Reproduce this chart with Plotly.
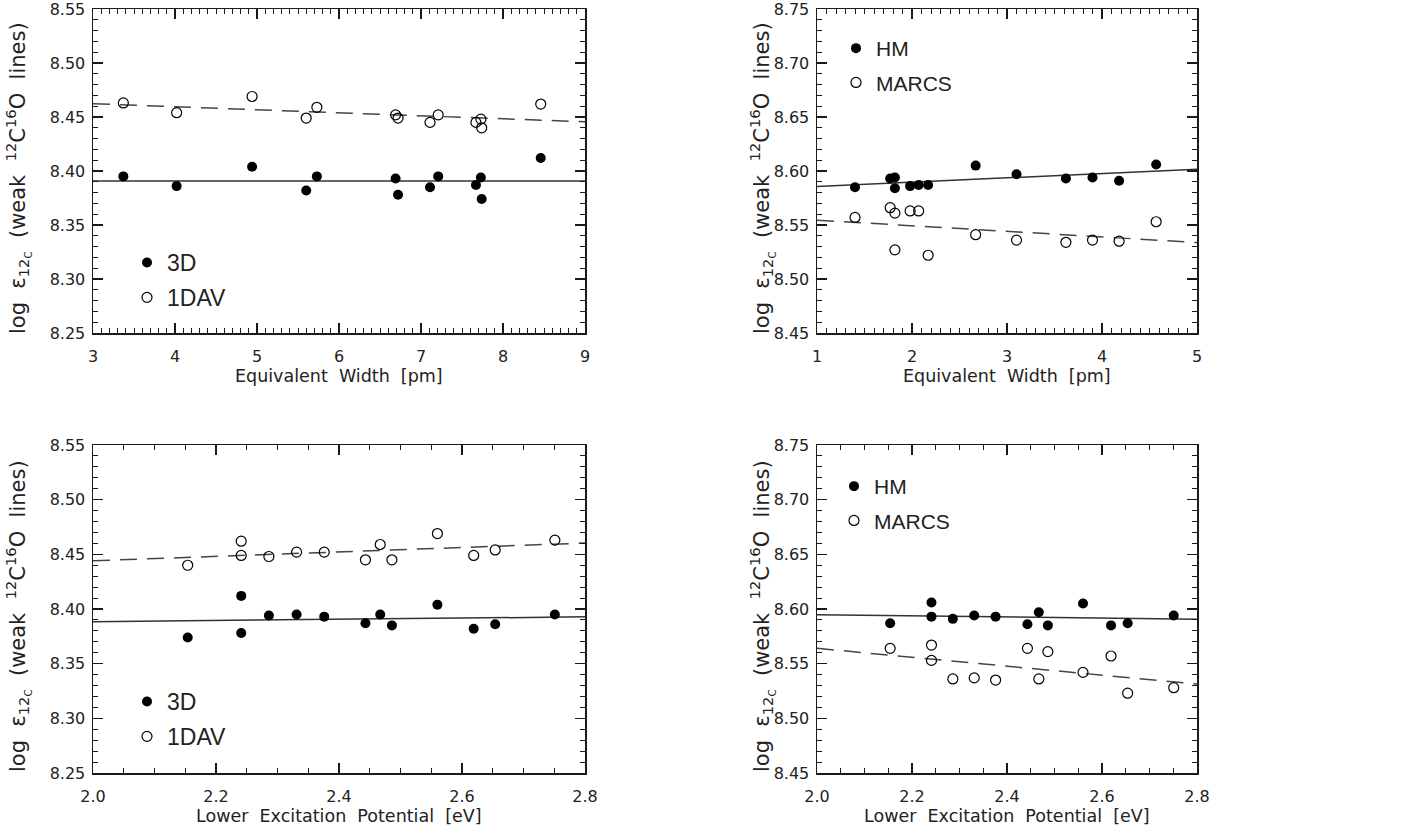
import numpy as np
import plotly.graph_objects as go

W, H = 1407, 839

# ---------------- data ----------------
ew_3d = [3.37, 4.02, 4.94, 5.60, 5.73, 6.69, 6.72, 7.11, 7.21, 7.67, 7.73, 7.74, 8.46]
logc_3d_ew = [8.395, 8.386, 8.404, 8.382, 8.395, 8.393, 8.378, 8.385, 8.395, 8.387, 8.394, 8.374, 8.412]
logc_1dav_ew = [8.463, 8.454, 8.469, 8.449, 8.459, 8.452, 8.449, 8.445, 8.452, 8.445, 8.448, 8.440, 8.462]

ew_hm = [1.40, 1.77, 1.82, 1.82, 1.98, 2.07, 2.17, 2.67, 3.10, 3.62, 3.90, 4.18, 4.57]
logc_hm_ew = [8.585, 8.593, 8.594, 8.584, 8.586, 8.587, 8.587, 8.605, 8.597, 8.593, 8.594, 8.591, 8.606]
logc_marcs_ew = [8.557, 8.566, 8.561, 8.527, 8.563, 8.563, 8.522, 8.541, 8.536, 8.534, 8.536, 8.535, 8.553]

chi_ex = [2.154, 2.241, 2.241, 2.286, 2.331, 2.376, 2.443, 2.467, 2.486, 2.560, 2.619, 2.654, 2.751]
logc_3d_chi = [8.374, 8.412, 8.378, 8.394, 8.395, 8.393, 8.387, 8.395, 8.385, 8.404, 8.382, 8.386, 8.395]
logc_1dav_chi = [8.440, 8.462, 8.449, 8.448, 8.452, 8.452, 8.445, 8.459, 8.445, 8.469, 8.449, 8.454, 8.463]
logc_hm_chi = [8.587, 8.606, 8.593, 8.591, 8.594, 8.593, 8.586, 8.597, 8.585, 8.605, 8.585, 8.587, 8.594]
logc_marcs_chi = [8.564, 8.567, 8.553, 8.536, 8.537, 8.535, 8.564, 8.536, 8.561, 8.542, 8.557, 8.523, 8.528]

SP = "\u00a0\u00a0"
x_titles = ["Equivalent" + SP + "Width" + SP + "[pm]",
            "Equivalent" + SP + "Width" + SP + "[pm]",
            "Lower" + SP + "Excitation" + SP + "Potential" + SP + "[eV]",
            "Lower" + SP + "Excitation" + SP + "Potential" + SP + "[eV]"]
SPY = "\u00a0\u00a0"
y_title = ("log" + SPY + "\u03b5<sub>12<sub>C</sub></sub>" + SPY + "(weak" + SPY +
           "<sup>12</sup>C<sup>16</sup>O" + SPY + "lines)")
legend_names = [("3D", "1DAV"), ("HM", "MARCS"), ("3D", "1DAV"), ("HM", "MARCS")]

# ---------------- layout / style ----------------
panels = [
    dict(x=ew_3d, f=logc_3d_ew, o=logc_1dav_ew, xr=[3, 9], yr=[8.25, 8.55],
         xd=(93, 585), yd=(9, 333), dx=1, mdx=0.1, xfmt="d", yt_off=75,
         leg=(127, 241), legsize=23, leggap=2),
    dict(x=ew_hm, f=logc_hm_ew, o=logc_marcs_ew, xr=[1, 5], yr=[8.45, 8.75],
         xd=(817, 1197), yd=(9, 333), dx=1, mdx=0.1, xfmt="d", yt_off=55,
         leg=(836, 28), legsize=21, leggap=4),
    dict(x=chi_ex, f=logc_3d_chi, o=logc_1dav_chi, xr=[2.0, 2.8], yr=[8.25, 8.55],
         xd=(93, 585), yd=(445, 773), dx=0.2, mdx=0.05, xfmt=".1f", yt_off=75,
         leg=(127, 680), legsize=23, leggap=2),
    dict(x=chi_ex, f=logc_hm_chi, o=logc_marcs_chi, xr=[2.0, 2.8], yr=[8.45, 8.75],
         xd=(817, 1197), yd=(445, 773), dx=0.2, mdx=0.05, xfmt=".1f", yt_off=55,
         leg=(834, 466), legsize=21, leggap=4),
]

INK = "#1a1a1a"
tick_font = dict(family="DejaVu Sans", size=16, color="#222")
xtitle_font = dict(family="DejaVu Sans", size=17.5, color="#222")
ytitle_font = dict(family="DejaVu Sans", size=21, color="#222")

fig = go.Figure()
layout = dict(width=W, height=H, margin=dict(l=0, r=0, t=0, b=0, autoexpand=False),
              paper_bgcolor="white", plot_bgcolor="white", showlegend=True)
annotations = []

for i, p in enumerate(panels):
    n = "" if i == 0 else str(i + 1)
    xa, ya = "x" + n, "y" + n
    lg = "legend" + n
    xs = np.array(p["x"], dtype=float)
    # fits (ordinary least squares) over full axis range
    xx = np.array(p["xr"], dtype=float)
    cf = np.polyfit(xs, np.array(p["f"]), 1)
    co = np.polyfit(xs, np.array(p["o"]), 1)
    fig.add_trace(go.Scatter(x=xx, y=np.polyval(cf, xx), mode="lines", xaxis=xa, yaxis=ya,
                             line=dict(color="#333", width=1.5), showlegend=False, hoverinfo="skip"))
    fig.add_trace(go.Scatter(x=xx, y=np.polyval(co, xx), mode="lines", xaxis=xa, yaxis=ya,
                             line=dict(color="#444", width=1.5, dash="17px,10px"),
                             showlegend=False, hoverinfo="skip"))
    fig.add_trace(go.Scatter(x=xs, y=p["f"], mode="markers", xaxis=xa, yaxis=ya,
                             name=legend_names[i][0], legend=lg, legendgroup=f"f{i}",
                             marker=dict(symbol="circle", size=10, color="black")))
    fig.add_trace(go.Scatter(x=xs, y=p["o"], mode="markers", xaxis=xa, yaxis=ya,
                             name=legend_names[i][1], legend=lg, legendgroup=f"o{i}",
                             marker=dict(symbol="circle-open", size=10, color="black",
                                         line=dict(width=1.2, color="black"))))

    common = dict(showline=True, linecolor=INK, linewidth=1.5, mirror="ticks",
                  ticks="inside", tickcolor=INK, tickwidth=1.3, ticklen=10,
                  showgrid=False, zeroline=False, tickfont=tick_font, automargin=False,
                  ticklabeloverflow="allow")
    layout["xaxis" + n] = dict(common, domain=[p["xd"][0] / W, p["xd"][1] / W],
                               range=p["xr"], anchor=ya, tick0=p["xr"][0], dtick=p["dx"],
                               tickformat=p["xfmt"], ticklabelstandoff=8,
                               minor=dict(ticks="inside", ticklen=5, dtick=p["mdx"],
                                          tick0=p["xr"][0], tickcolor=INK, tickwidth=1))
    layout["yaxis" + n] = dict(common, domain=[1 - p["yd"][1] / H, 1 - p["yd"][0] / H],
                               range=p["yr"], anchor=xa, tick0=p["yr"][0], dtick=0.05,
                               tickformat=".2f", ticklabelstandoff=3,
                               minor=dict(ticks="inside", ticklen=5, dtick=0.01,
                                          tick0=p["yr"][0], tickcolor=INK, tickwidth=1))
    layout[lg] = dict(x=p["leg"][0] / W, y=1 - p["leg"][1] / H,
                      xanchor="left", yanchor="top",
                      font=dict(family="Liberation Sans, Arial", size=p["legsize"], color="#222"),
                      bgcolor="rgba(0,0,0,0)", traceorder="grouped",
                      tracegroupgap=p["leggap"], itemwidth=30)
    # axis titles
    xc = (p["xd"][0] + p["xd"][1]) / 2
    annotations.append(dict(text=x_titles[i], x=xc / W, y=1 - (p["yd"][1] + 43) / H,
                            xref="paper", yref="paper", showarrow=False,
                            xanchor="center", yanchor="middle", font=xtitle_font))
    yc = (p["yd"][0] + p["yd"][1]) / 2 + 7
    annotations.append(dict(text=y_title, x=(p["xd"][0] - p["yt_off"]) / W, y=1 - yc / H,
                            xref="paper", yref="paper", showarrow=False, textangle=-90,
                            xanchor="center", yanchor="middle", font=ytitle_font))

layout["annotations"] = annotations
fig.update_layout(**layout)
fig.write_html("out.html", config={"displayModeBar": False, "staticPlot": True},
               post_script="document.body.style.margin='0px';")
